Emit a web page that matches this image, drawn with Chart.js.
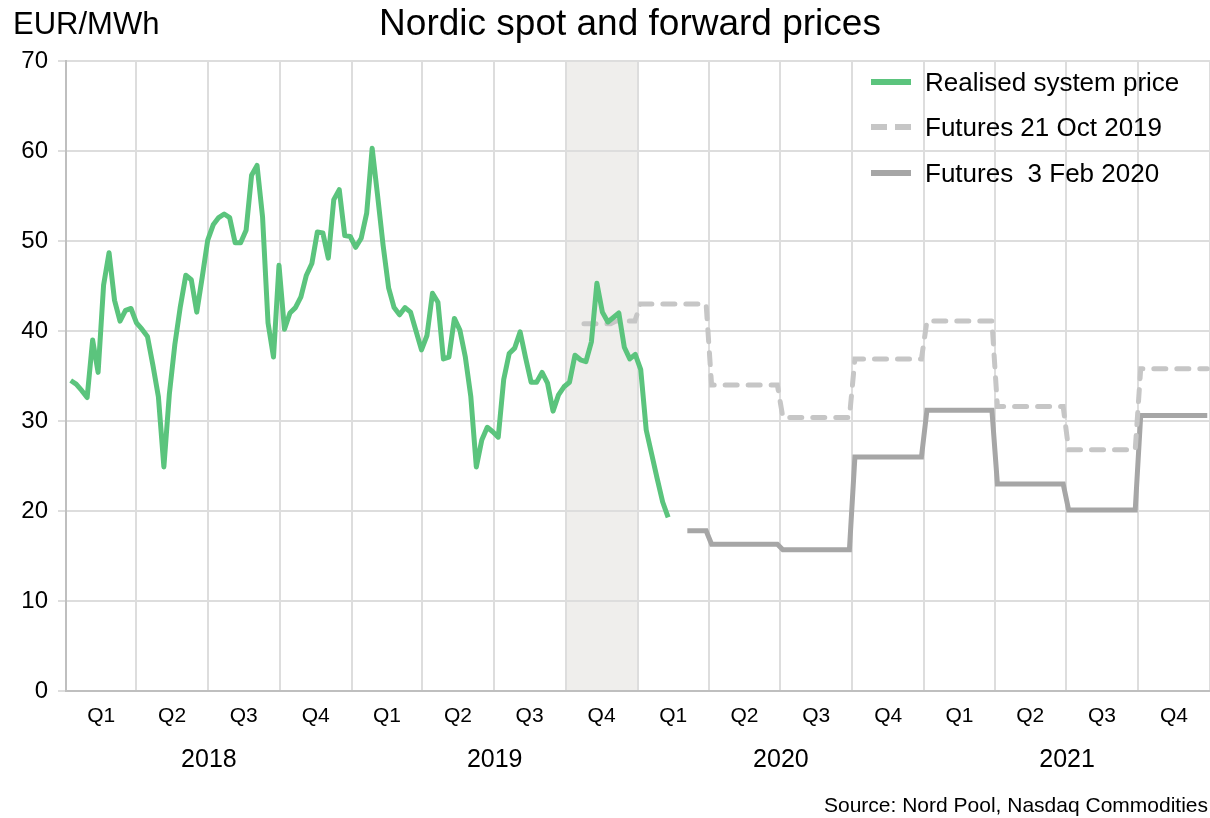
<!DOCTYPE html>
<html>
<head>
<meta charset="utf-8">
<script src="https://cdn.jsdelivr.net/npm/chart.js@4/dist/chart.umd.min.js"></script>
<style>
  html, body { margin: 0; padding: 0; background: #fff; }
  #wrap { width: 1210px; height: 818px; position: relative; }
</style>
</head>
<body>
<div id="wrap"><canvas id="nordicChart"></canvas></div>
<script>
// labels
const chartTitle = 'Nordic spot and forward prices';
const unitLabel = 'EUR/MWh';
const sourceLabel = 'Source: Nord Pool, Nasdaq Commodities';
const quarterLabels = ['Q1', 'Q2', 'Q3', 'Q4'];
const yearLabels = ['2018', '2019', '2020', '2021'];
const yTicks = [0, 10, 20, 30, 40, 50, 60, 70];

// weekly system price, first week of 2018 -> week 5 of 2020
const spotPrices = [
  34.5, 34.1, 33.4, 32.6, 39.0, 35.4, 45.1, 48.7, 43.4, 41.1,
  42.3, 42.5, 40.9, 40.2, 39.4, 36.2, 32.7, 24.9, 33.0, 38.5,
  42.7, 46.2, 45.7, 42.1, 46.0, 50.1, 51.8, 52.6, 53.0, 52.6,
  49.8, 49.8, 51.2, 57.3, 58.4, 52.7, 40.9, 37.1, 47.3, 40.2,
  42.0, 42.6, 43.8, 46.2, 47.5, 51.0, 50.9, 48.1, 54.6, 55.7,
  50.6, 50.5, 49.3, 50.3, 53.1, 60.3, 55.0, 49.5, 44.8, 42.6,
  41.8, 42.6, 42.1, 40.0, 37.9, 39.5, 44.2, 43.2, 36.9, 37.1,
  41.4, 40.1, 37.1, 32.7, 24.9, 27.9, 29.3, 28.8, 28.2, 34.6,
  37.5, 38.1, 39.9, 37.0, 34.3, 34.3, 35.4, 34.2, 31.1, 32.9,
  33.8, 34.3, 37.3, 36.8, 36.6, 38.8, 45.3, 42.1, 41.0, 41.5,
  42.0, 38.2, 36.9, 37.4, 35.7, 29.0, 26.3, 23.6, 21.0, 19.3
];

// forward curve 21 Oct 2019 (contract start dates + prices)
const futOctStarts = ['2019-10-21', '2019-12-01', '2020-01-01', '2020-04-01', '2020-07-01',
                      '2020-10-01', '2021-01-01', '2021-04-01', '2021-07-01', '2021-10-01'];
const futOctValues = [40.8, 41.1, 43.0, 34.0, 30.4, 36.9, 41.1, 31.6, 26.8, 35.8];

// forward curve 3 Feb 2020
const futFebStarts = ['2020-03-01', '2020-04-01', '2020-07-01', '2020-10-01',
                      '2021-01-01', '2021-04-01', '2021-07-01', '2021-10-01'];
const futFebValues = [17.8, 16.3, 15.7, 26.0, 31.2, 23.0, 20.1, 30.6];

const curveEnd = '2022-01-01';
const shadedPeriod = ['2019-10-01', '2020-01-01'];

const FONT = '"Liberation Sans", Arial, sans-serif';
const DAY0 = Date.UTC(2018, 0, 1);

function dayNo(s) {
  const p = s.split('-');
  return (Date.UTC(+p[0], +p[1] - 1, +p[2]) - DAY0) / 86400000;
}

const quarterStarts = [];
yearLabels.forEach(y => {
  ['01', '04', '07', '10'].forEach(m => quarterStarts.push(dayNo(y + '-' + m + '-01')));
});
quarterStarts.push(dayNo(curveEnd));
const quarterMids = quarterStarts.slice(0, -1).map((d, i) => (d + quarterStarts[i + 1]) / 2);
const yearMids = yearLabels.map((y, i) => (quarterStarts[i * 4] + quarterStarts[i * 4 + 4]) / 2);

function stepPoints(starts, values) {
  const pts = [];
  starts.forEach((s, i) => {
    const a = dayNo(s);
    const b = i + 1 < starts.length ? dayNo(starts[i + 1]) : dayNo(curveEnd);
    pts.push({ x: a + 3.5, y: values[i] });
    pts.push({ x: b - 3.5, y: values[i] });
  });
  return pts;
}

// plotted at the end of each week
const spotPoints = spotPrices.map((v, i) => ({ x: i * 7 + 6, y: v }));

const shadePlugin = {
  id: 'shade',
  beforeDraw(chart) {
    const { ctx, chartArea, scales } = chart;
    const x1 = scales.x.getPixelForValue(dayNo(shadedPeriod[0]));
    const x2 = scales.x.getPixelForValue(dayNo(shadedPeriod[1]));
    ctx.save();
    ctx.fillStyle = '#EFEEEC';
    ctx.fillRect(x1, chartArea.top, x2 - x1, chartArea.bottom - chartArea.top);
    ctx.restore();
  }
};

const textPlugin = {
  id: 'texts',
  afterDraw(chart) {
    const ctx = chart.ctx;
    ctx.save();
    ctx.fillStyle = '#000';
    ctx.textBaseline = 'alphabetic';

    ctx.font = '37px ' + FONT;
    ctx.textAlign = 'center';
    ctx.fillText(chartTitle, 630, 35);

    ctx.font = '31px ' + FONT;
    ctx.textAlign = 'left';
    ctx.fillText(unitLabel, 13, 34);

    ctx.font = '21px ' + FONT;
    ctx.textAlign = 'right';
    ctx.fillText(sourceLabel, 1208, 812);

    // legend
    const rows = [82, 127, 173];
    ctx.font = '26px ' + FONT;
    ctx.textAlign = 'left';
    chart.data.datasets.forEach((ds, i) => {
      const y = rows[i];
      ctx.save();
      ctx.strokeStyle = ds.borderColor;
      ctx.lineWidth = 6;
      ctx.lineCap = 'butt';
      ctx.setLineDash(ds.borderDash ? [16, 8] : []);
      ctx.beginPath();
      ctx.moveTo(871, y);
      ctx.lineTo(911, y);
      ctx.stroke();
      ctx.restore();
      ctx.fillText(ds.label, 925, y + 9);
    });
    ctx.restore();
  }
};

new Chart(document.getElementById('nordicChart'), {
  type: 'line',
  data: {
    datasets: [
      {
        label: 'Realised system price',
        data: spotPoints,
        borderColor: '#5BC47D',
        borderWidth: 5,
        borderJoinStyle: 'round',
        pointRadius: 0,
        tension: 0
      },
      {
        label: 'Futures 21 Oct 2019',
        data: stepPoints(futOctStarts, futOctValues),
        borderColor: '#C6C6C6',
        borderWidth: 5,
        borderDash: [12, 11],
        borderCapStyle: 'round',
        pointRadius: 0,
        tension: 0
      },
      {
        label: 'Futures  3 Feb 2020',
        data: stepPoints(futFebStarts, futFebValues),
        borderColor: '#A6A6A6',
        borderWidth: 5,
        pointRadius: 0,
        tension: 0
      }
    ]
  },
  options: {
    animation: false,
    responsive: true,
    maintainAspectRatio: false,
    layout: { padding: { top: 61, left: 0, right: 0, bottom: 0 } },
    plugins: {
      legend: { display: false },
      tooltip: { enabled: false },
      title: { display: false }
    },
    scales: {
      x: {
        type: 'linear',
        min: 0,
        max: dayNo(curveEnd),
        weight: 0,
        afterBuildTicks: s => { s.ticks = quarterStarts.map(v => ({ value: v })); },
        ticks: { display: false },
        grid: { color: '#DDDDDD', lineWidth: 2, drawTicks: false },
        border: { color: '#BFBFBF', width: 2 }
      },
      q: {
        type: 'linear',
        axis: 'x',
        position: 'bottom',
        min: 0,
        max: dayNo(curveEnd),
        weight: 1,
        afterBuildTicks: s => { s.ticks = quarterMids.map(v => ({ value: v })); },
        afterFit: s => { s.height = 48; },
        ticks: {
          autoSkip: false,
          maxRotation: 0,
          padding: 13,
          color: '#000',
          font: { family: FONT, size: 21 },
          callback: (v, i) => quarterLabels[i % 4]
        },
        grid: { display: false, drawTicks: false },
        border: { display: false }
      },
      yr: {
        type: 'linear',
        axis: 'x',
        position: 'bottom',
        min: 0,
        max: dayNo(curveEnd),
        weight: 2,
        afterBuildTicks: s => { s.ticks = yearMids.map(v => ({ value: v })); },
        afterFit: s => { s.height = 79; },
        ticks: {
          autoSkip: false,
          maxRotation: 0,
          padding: 6,
          color: '#000',
          font: { family: FONT, size: 25 },
          callback: (v, i) => yearLabels[i]
        },
        grid: { display: false, drawTicks: false },
        border: { display: false }
      },
      y: {
        min: 0,
        max: 70,
        afterBuildTicks: s => { s.ticks = yTicks.map(v => ({ value: v })); },
        afterFit: s => { s.width = 66; },
        ticks: {
          padding: 10,
          color: '#000',
          font: { family: FONT, size: 24 }
        },
        grid: { color: '#DDDDDD', lineWidth: 2, tickLength: 8 },
        border: { color: '#BFBFBF', width: 2 }
      }
    }
  },
  plugins: [shadePlugin, textPlugin]
});
</script>
</body>
</html>
